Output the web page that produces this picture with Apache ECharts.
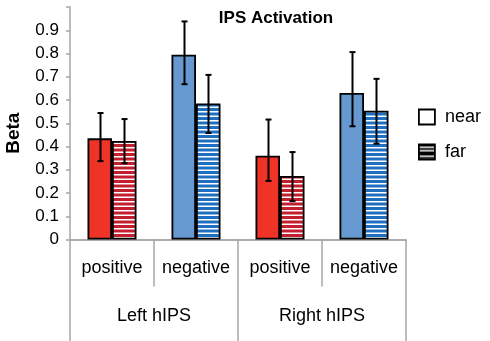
<!DOCTYPE html>
<html>
<head>
<meta charset="utf-8">
<script src="https://cdn.jsdelivr.net/npm/echarts@6/dist/echarts.min.js"></script>
<style>
  html, body { margin: 0; padding: 0; background: #fff; }
  #chart { width: 490px; height: 341px; }
</style>
</head>
<body>
<div id="chart"></div>
<script>
var categories = ['positive', 'negative', 'positive', 'negative'];
var groups = ['Left hIPS', 'Right hIPS'];
var nearValues = [0.435, 0.795, 0.36, 0.63];
var nearLow = [0.337, 0.668, 0.252, 0.487];
var nearHigh = [0.544, 0.938, 0.516, 0.806];
var farValues = [0.424, 0.585, 0.273, 0.554];
var farLow = [0.328, 0.458, 0.165, 0.412];
var farHigh = [0.518, 0.708, 0.376, 0.691];
var yMax = 1;
var yStep = 0.1;

var nearColors = ['#ef3326', '#6699cf', '#ef3326', '#6699cf'];
var farColors = ['#c2202e', '#1f6fc1', '#c2202e', '#1f6fc1'];

var barW = 24.5;
var grayLine = '#a6a6a6';
var font = 'Liberation Sans, Arial, sans-serif';

// horizontal stripes fill (white lines over a color)
function stripes(color, h1, h2) {
    var c = document.createElement('canvas');
    c.width = 4;
    c.height = 9;
    var ctx = c.getContext('2d');
    ctx.fillStyle = color;
    ctx.fillRect(0, 0, 4, 9);
    ctx.fillStyle = '#ffffff';
    ctx.fillRect(0, h1, 4, 1.5);
    ctx.fillRect(0, h2, 4, 1.5);
    return { image: c, repeat: 'repeat' };
}

var dom = document.getElementById('chart');
var myChart = echarts.init(dom, null, { renderer: 'canvas' });

var errData = [];
nearValues.forEach(function (v, i) {
    errData.push([i, nearLow[i], nearHigh[i], -1]);
    errData.push([i, farLow[i], farHigh[i], 1]);
});

var option = {
    backgroundColor: '#ffffff',
    animation: false,
    title: {
        text: 'IPS Activation',
        left: 276,
        top: 10,
        padding: 0,
        textAlign: 'center',
        textStyle: { fontFamily: font, fontSize: 17, fontWeight: 'bold', color: '#000' }
    },
    legend: {
        orient: 'vertical',
        left: 418,
        top: 108,
        padding: 0,
        itemWidth: 16,
        itemHeight: 15,
        itemGap: 17,
        icon: 'rect',
        textStyle: { fontFamily: font, fontSize: 18, color: '#000', padding: [0, 0, 0, 5], lineHeight: 18 },
        data: [
            { name: 'near', itemStyle: { color: '#ffffff', borderColor: '#000', borderWidth: 1.8 } },
            { name: 'far', itemStyle: { color: stripes('#000000', 2, 5.5), borderColor: '#000', borderWidth: 1.8 } }
        ]
    },
    grid: {
        left: 70,
        right: 84,
        top: 7,
        bottom: 101.5,
        outerBoundsMode: 'none',
        containLabel: false
    },
    xAxis: [{
        type: 'category',
        data: categories,
        position: 'bottom',
        axisLine: { show: true, lineStyle: { color: grayLine, width: 1.5 } },
        axisTick: { show: true, length: 47, interval: 0, alignWithLabel: false, lineStyle: { color: grayLine, width: 1.5 } },
        axisLabel: { interval: 0, margin: 20, fontFamily: font, fontSize: 18, color: '#000' }
    }, {
        type: 'category',
        data: groups,
        position: 'bottom',
        axisLine: { show: true, lineStyle: { color: grayLine, width: 1.5 } },
        axisTick: { show: true, length: 102, interval: 0, alignWithLabel: false, lineStyle: { color: grayLine, width: 1.5 } },
        axisLabel: { interval: 0, margin: 68, fontFamily: font, fontSize: 18, color: '#000' }
    }],
    yAxis: {
        type: 'value',
        min: 0,
        max: yMax,
        interval: yStep,
        name: 'Beta',
        nameLocation: 'middle',
        nameRotate: 90,
        nameGap: 47,
        nameTextStyle: { fontFamily: font, fontSize: 19, fontWeight: 'bold', color: '#000', padding: [0, 20, 0, 0] },
        splitLine: { show: false },
        axisLine: { show: true, lineStyle: { color: grayLine, width: 1.5 } },
        axisTick: { show: true, length: 4, lineStyle: { color: grayLine, width: 1.5 } },
        axisLabel: {
            margin: 11,
            fontFamily: font,
            fontSize: 17,
            color: '#000',
            formatter: function (v) { return v >= yMax ? '' : String(Math.round(v * 10) / 10); }
        }
    },
    series: [{
        name: 'near',
        type: 'bar',
        barWidth: barW,
        barGap: '0%',
        itemStyle: { color: '#ffffff', borderColor: '#000', borderWidth: 1.8 },
        data: nearValues.map(function (v, i) {
            return { value: v, itemStyle: { color: nearColors[i] } };
        })
    }, {
        name: 'far',
        type: 'bar',
        barWidth: barW,
        barGap: '0%',
        itemStyle: { color: '#ffffff', borderColor: '#000', borderWidth: 1.8 },
        data: farValues.map(function (v, i) {
            return { value: v, itemStyle: { color: stripes(farColors[i], 3, 7.5) } };
        })
    }, {
        name: 'err',
        type: 'custom',
        z: 10,
        renderItem: function (params, api) {
            var idx = api.value(0);
            var lo = api.coord([idx, api.value(1)]);
            var hi = api.coord([idx, api.value(2)]);
            var x = Math.round(lo[0] + api.value(3) * barW / 2) + 0.5;
            var cap = 3;
            var st = { stroke: '#000', lineWidth: 2 };
            return {
                type: 'group',
                children: [
                    { type: 'line', shape: { x1: x, y1: hi[1], x2: x, y2: lo[1] }, style: st },
                    { type: 'line', shape: { x1: x - cap, y1: hi[1], x2: x + cap, y2: hi[1] }, style: st },
                    { type: 'line', shape: { x1: x - cap, y1: lo[1], x2: x + cap, y2: lo[1] }, style: st }
                ]
            };
        },
        data: errData
    }]
};

myChart.setOption(option);
window.addEventListener('resize', myChart.resize);
</script>
</body>
</html>
